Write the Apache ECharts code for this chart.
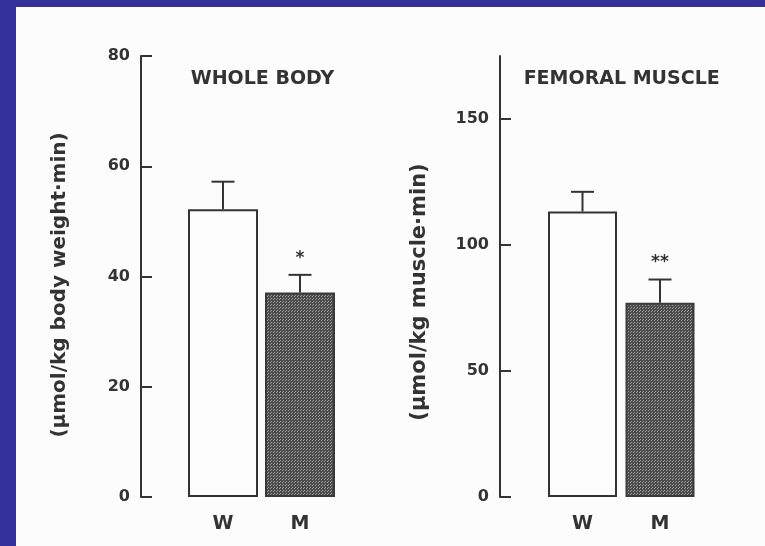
<!DOCTYPE html>
<html>
<head>
<meta charset="utf-8">
<script src="https://cdn.jsdelivr.net/npm/echarts@6/dist/echarts.min.js"></script>
<style>
  html, body { margin: 0; padding: 0; background: #34319a; width: 765px; height: 546px; overflow: hidden; }
  #chart { position: absolute; left: 16px; top: 7px; width: 749px; height: 539px; background: #fcfcfc; }
</style>
</head>
<body>
<div id="chart"></div>
<script>
// ---- data ----
const categories = ['W', 'M'];
const wholeBodyMean = [52.2, 37.1];
const wholeBodySE = [5.0, 3.2];
const wholeBodySig = ['', '*'];
const femoralMean = [113.3, 77.1];
const femoralSE = [7.8, 9.2];
const femoralSig = ['', '**'];
const wholeBodyTicks = [0, 20, 40, 60, 80];
const femoralTicks = [0, 50, 100, 150];
const panelTitles = ['WHOLE BODY', 'FEMORAL MUSCLE'];
const axisNames = ['(\u03bcmol/kg body weight\u00b7min)', '(\u03bcmol/kg muscle\u00b7min)'];

// ---- styling helpers ----
const ink = '#333333';
const font = 'DejaVu Sans';

function stipple() {
  const c = document.createElement('canvas');
  c.width = 3; c.height = 3;
  const g = c.getContext('2d');
  g.fillStyle = '#4c4c4c';
  g.fillRect(0, 0, 3, 3);
  g.fillStyle = '#9a9a9a';
  g.fillRect(0, 0, 1, 1);
  g.fillRect(2, 1, 1, 1);
  return c;
}
const stippleFill = { image: stipple(), repetition: 'repeat' };

function barData(means) {
  return means.map((v, i) => ({
    value: v,
    itemStyle: i === 0
      ? { color: '#fdfdfd', borderColor: ink, borderWidth: 2 }
      : { color: stippleFill, borderColor: '#3a3a3a', borderWidth: 2 }
  }));
}

function errSeries(idx, means, ses, sig) {
  return {
    type: 'custom',
    xAxisIndex: idx, yAxisIndex: idx,
    z: 5,
    encode: { x: 0, y: 1 },
    data: means.map((m, i) => [i, m, ses[i]]),
    renderItem: function (params, api) {
      const i = api.value(0), m = api.value(1), e = api.value(2);
      const b = api.coord([i, m]);
      const t = api.coord([i, m + e]);
      const half = 11.5;
      const st = { stroke: ink, lineWidth: 2 };
      const children = [
        { type: 'line', shape: { x1: b[0], y1: b[1], x2: t[0], y2: t[1] }, style: st },
        { type: 'line', shape: { x1: t[0] - half, y1: t[1], x2: t[0] + half, y2: t[1] }, style: st }
      ];
      const s = sig[params.dataIndex];
      if (s) {
        children.push({
          type: 'text',
          style: {
            text: s, x: t[0], y: t[1] - 8,
            align: 'center', verticalAlign: 'bottom',
            fill: ink, font: 'bold 17px "DejaVu Sans"'
          }
        });
      }
      return { type: 'group', children: children };
    }
  };
}

function yAxisCfg(idx, max, interval, ticks, offset) {
  return {
    type: 'value', gridIndex: idx,
    min: 0, max: max, interval: interval,
    offset: offset,
    axisLine: { show: true, lineStyle: { color: ink, width: 2 } },
    axisTick: { show: true, inside: true, length: 11, lineStyle: { color: ink, width: 2 }, customValues: ticks },
    axisLabel: { show: true, margin: 11, color: ink, fontFamily: font, fontWeight: 'bold', fontSize: 16, customValues: ticks },
    splitLine: { show: false }
  };
}

function xAxisCfg(idx) {
  return {
    type: 'category', gridIndex: idx, data: categories,
    axisLine: { show: false }, axisTick: { show: false },
    axisLabel: { margin: 18, color: ink, fontFamily: font, fontWeight: 'bold', fontSize: 19 }
  };
}

const chart = echarts.init(document.getElementById('chart'), null, { renderer: 'canvas' });
chart.setOption({
  animation: false,
  backgroundColor: 'transparent',
  grid: [
    { left: 168.5, top: 49, width: 154, height: 441 },
    { left: 527.75, top: 49, width: 155, height: 441 }
  ],
  xAxis: [xAxisCfg(0), xAxisCfg(1)],
  yAxis: [
    yAxisCfg(0, 80, 20, wholeBodyTicks, 43.5),
    yAxisCfg(1, 175, 50, femoralTicks, 43.75)
  ],
  graphic: [
    { type: 'text', x: 246.5, y: 72, silent: true,
      style: { text: panelTitles[0], align: 'center', verticalAlign: 'middle', fill: ink, font: 'bold 19px "DejaVu Sans"' } },
    { type: 'text', x: 605.7, y: 72, silent: true,
      style: { text: panelTitles[1], align: 'center', verticalAlign: 'middle', fill: ink, font: 'bold 19px "DejaVu Sans"' } },
    { type: 'text', x: 44, y: 278, rotation: Math.PI / 2, silent: true,
      style: { text: axisNames[0], align: 'center', verticalAlign: 'middle', fill: ink, font: 'bold 20px "DejaVu Sans"' } },
    { type: 'text', x: 404, y: 285, rotation: Math.PI / 2, silent: true,
      style: { text: axisNames[1], align: 'center', verticalAlign: 'middle', fill: ink, font: 'bold 21px "DejaVu Sans"' } }
  ],
  series: [
    { type: 'bar', xAxisIndex: 0, yAxisIndex: 0, barWidth: 70, data: barData(wholeBodyMean) },
    { type: 'bar', xAxisIndex: 1, yAxisIndex: 1, barWidth: 69, data: barData(femoralMean) },
    errSeries(0, wholeBodyMean, wholeBodySE, wholeBodySig),
    errSeries(1, femoralMean, femoralSE, femoralSig)
  ]
});
</script>
</body>
</html>
